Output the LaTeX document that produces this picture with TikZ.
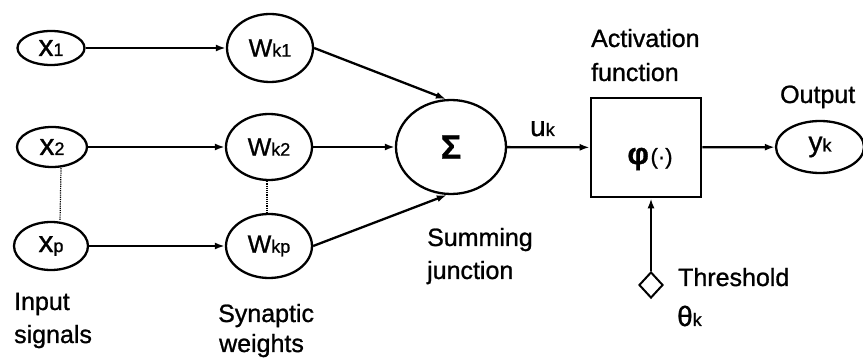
\documentclass[tikz,border=0pt]{standalone}
\usepackage{fontspec}
\setmainfont{Liberation Sans}[FakeBold=1]
\usetikzlibrary{shapes.geometric,arrows.meta}
% font sizes
\newcommand\lblsz{\fontsize{25}{30}\selectfont}
\newcommand\varsz{\fontsize{30}{30}\selectfont}
\newcommand\wsz{\fontsize{25}{25}\selectfont}
\newcommand\midsz{\fontsize{28}{28}\selectfont}
\newcommand\subsz{\fontsize{18}{18}\selectfont}
\begin{document}
\begin{tikzpicture}[x=1pt,y=-1pt,line width=2.3pt,
  oval/.style={ellipse,draw,inner sep=0pt},
  arr/.style={-{Latex[length=10pt,width=7pt]}},
  dots/.style={line width=1.2pt,densely dotted},
  txt/.style={anchor=base west,inner sep=0pt,font=\lblsz}]
\useasboundingbox (0,0) rectangle (863,358);

% input signals
\node[oval,minimum width=67,minimum height=34] (x1) at (51,48) {\varsz x\subsz 1};
\node[oval,minimum width=70,minimum height=40] (x2) at (52,147) {\varsz x\subsz 2};
\node[oval,minimum width=74,minimum height=48] (xp) at (51,246) {\varsz x\subsz p};

% synaptic weights
\node[oval,minimum width=86,minimum height=68] (wk1) at (270,48) {\wsz W\subsz k1};
\node[oval,minimum width=86,minimum height=66] (wk2) at (269,147) {\wsz W\subsz k2};
\node[oval,minimum width=86,minimum height=64] (wkp) at (269,246) {\wsz W\subsz kp};

% summing junction, activation box, output
\node[oval,minimum width=110,minimum height=94] (sum) at (451,147)
  {\bfseries\fontsize{34}{34}\selectfont Σ};
\node[draw,rectangle,line width=2.6pt,minimum width=110,minimum height=99,inner sep=0pt]
  (box) at (646,147.5) {};
\node[inner sep=0pt] (phi) at (650,159)
  {{\bfseries\fontsize{30}{30}\selectfont φ}\,{\fontsize{22}{22}\selectfont(·)}};
\node[oval,minimum width=88,minimum height=52] (out) at (820,147) {\midsz y\subsz k};
\node[diamond,draw,line width=2pt,inner sep=0pt,minimum width=24,minimum height=26]
  (thr) at (651,285) {};

% connectors
\draw[arr] (x1) -- (wk1);
\draw[arr] (x2) -- (wk2);
\draw[arr] (xp) -- (wkp);
\draw[dots] ([xshift=9pt]x2.south) -- ([xshift=9pt]xp.north);
\draw[dots] ([xshift=-2pt]wk2.south) -- ([xshift=-2pt]wkp.north);
\draw[arr] (wk1.east) -- (sum.96);
\draw[arr] (wk2) -- (sum);
\draw[arr] (wkp.east) -- (sum.265);
\draw[arr] (sum) -- (box);
\draw[arr] (box) -- (out);
\draw[arr] (thr.north) -- (thr.north |- box.south);

% labels
\node[txt] (tin1) at (13,310) {Input};
\node[txt] (tin2) at (13,343) {signals};
\node[txt] (tsyn1) at (217,322) {Synaptic};
\node[txt] (tsyn2) at (218,352) {weights};
\node[txt] (tsum1) at (426,246) {Summing};
\node[txt] (tsum2) at (426,279) {junction};
\node[txt] (tact1) at (590,47) {Activation};
\node[txt] (tact2) at (590,81) {function};
\node[txt] (tout) at (779,103) {Output};
\node[txt] (tthr) at (677,286) {Threshold};
\node[txt] (ttheta) at (676,326) {\midsz θ\subsz k};
\node[txt] (tu) at (529,136) {\midsz u\subsz k};
\end{tikzpicture}
\end{document}
